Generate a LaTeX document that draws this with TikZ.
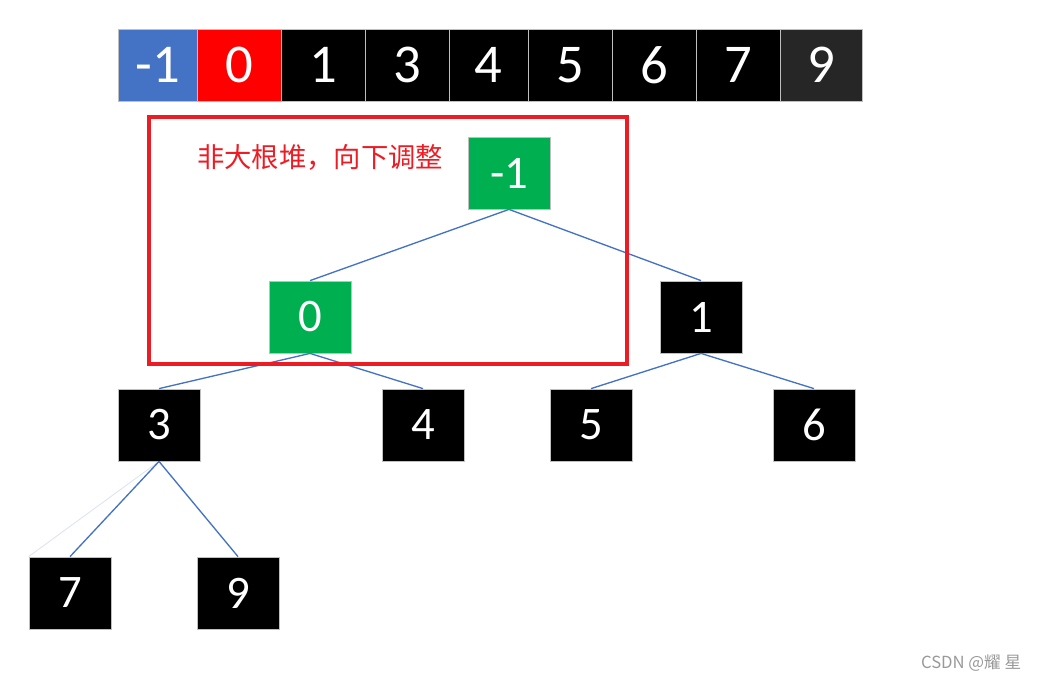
\documentclass[tikz,border=0pt]{standalone}
\usepackage{fontspec}
\setmainfont{Carlito}
\newfontfamily\cjk{Noto Sans CJK SC}
\usepackage{tikz}
\usepackage{xcolor}
\definecolor{cellblue}{HTML}{4472C4}
\definecolor{cellred}{HTML}{FF0000}
\definecolor{celldark}{HTML}{262626}
\definecolor{cellgray}{HTML}{BFBFBF}
\definecolor{heapgreen}{HTML}{00B050}
\definecolor{edgeblue}{HTML}{4472C4}
\definecolor{boxred}{HTML}{ED1C24}
\definecolor{faintline}{HTML}{DCE0F2}

\begin{document}
\begin{tikzpicture}[
    x=0.75pt, y=-0.75pt,
    cell/.style={draw=cellgray, line width=0.6pt, text=white, inner sep=0pt,
      minimum height=54pt, font=\fontsize{41}{41}\selectfont},
    key/.style={draw=cellgray, line width=0.6pt, fill=black, text=white, inner sep=0pt,
      minimum width=61.5pt, minimum height=54pt, font=\fontsize{35}{35}\selectfont},
    edge/.style={draw=edgeblue, line width=1pt},
    focus/.style={draw=boxred, line width=3pt, minimum width=358.5pt, minimum height=185.25pt},
    thin
]
  \useasboundingbox (0,0) rectangle (1041,683);

  % --- ARRAY ---
  \foreach \l/\r/\v/\c/\n in {118/197/-1/cellblue/a1, 197/281/0/cellred/a2,
      281/365/1/black/a3, 365/449/3/black/a4, 449/528/4/black/a5,
      528/612/5/black/a6, 612/696/6/black/a7, 696/780/7/black/a8,
      780/862/9/celldark/a9}
    \node[cell, fill=\c, minimum width={(\r-\l)*0.75pt}] (\n) at ({(\l+\r)/2},65) {\v};

  % --- HEAP ---
  \node[key, fill=heapgreen] (n1) at (509,173) {-1};
  \node[key, fill=heapgreen] (n0) at (310,317) {0};
  \node[key] (k1) at (701,317) {1};
  \node[key] (k3) at (159,425) {3};
  \node[key] (k4) at (423,425) {4};
  \node[key] (k5) at (591,425) {5};
  \node[key] (k6) at (814,425) {6};
  \node[key] (k7) at (70,593) {7};
  \node[key] (k9) at (238,593) {9};

  % --- EDGES ---
  \draw[edge] (n1.south) -- (n0.north);
  \draw[edge] (n1.south) -- (k1.north);
  \draw[edge] (n0.south) -- (k3.north);
  \draw[edge] (n0.south) -- (k4.north);
  \draw[edge] (k1.south) -- (k5.north);
  \draw[edge] (k1.south) -- (k6.north);
  \draw[draw=faintline, line width=0.6pt] (k3.south) -- (k7.north west);
  \draw[edge] (k3.south) -- (k7.north);
  \draw[edge] (k3.south) -- (k9.north);

  % --- ADJUSTING BOX ---
  \node[focus] (box) at (388,240.5) {};
  \node[text=boxred, font=\cjk\fontsize{20.5}{20.5}\selectfont] (tip) at (320,157) {非大根堆，向下调整};

  \node[text=gray!80, font=\cjk\fontsize{12.5}{12.5}\selectfont, anchor=east] (wm) at (1026,663) {CSDN @耀 星};
\end{tikzpicture}
\end{document}
